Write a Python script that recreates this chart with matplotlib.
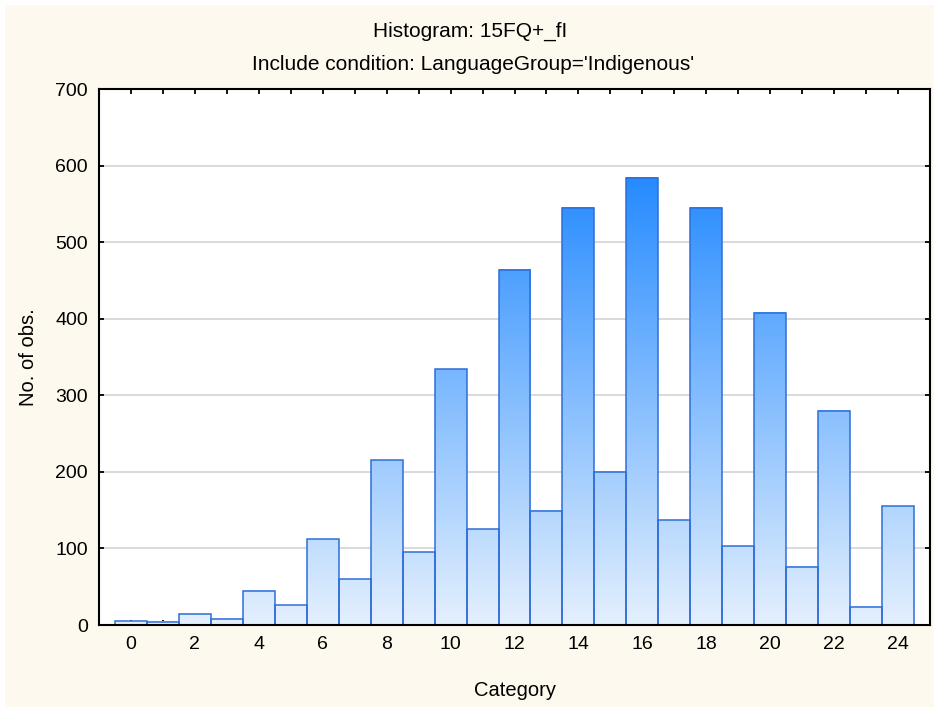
import matplotlib
matplotlib.use("Agg")
import matplotlib.pyplot as plt
import numpy as np
from matplotlib.colors import LinearSegmentedColormap
from matplotlib.patches import Rectangle

plt.rcParams['font.family'] = ['Liberation Sans', 'DejaVu Sans']

# histogram counts
categories = list(range(25))
counts = [5, 4, 15, 8, 45, 26, 112, 60, 215, 95, 334, 125, 464, 149,
          545, 200, 584, 137, 545, 103, 408, 76, 280, 24, 155]
tick_labels = [str(c) if c % 2 == 0 else '' for c in categories]

title = 'Histogram: 15FQ+_fI'
subtitle = "Include condition: LanguageGroup='Indigenous'"

W, H = 934, 707
fig = plt.figure(figsize=(W / 100, H / 100), dpi=100, facecolor='white')
# cream page background with a thin white strip on left/top
fig.patches.append(Rectangle((5 / W, 0), 1, 1 - 5 / H, transform=fig.transFigure,
                             facecolor='#FEF9EE', edgecolor='none', zorder=-10))

ax = fig.add_axes([99 / W, 1 - 625 / H, (930 - 99) / W, (625 - 89) / H])
ax.set_facecolor('white')

# gradient from pale at zero to saturated blue at the tallest bar
cmap = LinearSegmentedColormap.from_list('bluegrad', ['#E4F0FD', '#268BFF'])
vmax = max(counts)
for x, h in zip(categories, counts):
    grad = np.linspace(0, h, 200).reshape(-1, 1)
    ax.imshow(grad, cmap=cmap, vmin=0, vmax=vmax, origin='lower', aspect='auto',
              extent=(x - 0.5, x + 0.5, 0, h), zorder=2, interpolation='bilinear')
ax.bar(categories, counts, width=1.0, fill=False, edgecolor='#2F6ED8',
       linewidth=1.1, zorder=3)

ax.set_xlim(-1, 25)
ax.set_ylim(0, 700)
ax.set_xticks(categories)
ax.set_xticklabels(tick_labels)
ax.set_yticks(range(0, 701, 100))

ax.yaxis.grid(True, color='#D9D9D9', linewidth=1.4, zorder=0)
ax.set_axisbelow(True)

for s in ax.spines.values():
    s.set_linewidth(1.5)
    s.set_color('black')
    s.set_zorder(5)

ax.tick_params(axis='both', direction='in', length=3.5, width=1.3,
               top=True, right=True, labelsize=14, pad=8, colors='black')

fig.text(470 / W, 1 - 31 / H, title, ha='center', va='center', fontsize=15)
fig.text(473 / W, 1 - 64 / H, subtitle, ha='center', va='center', fontsize=15)
fig.text(515 / W, 1 - 690 / H, 'Category', ha='center', va='center', fontsize=14.5)
fig.text(28 / W, 1 - 357 / H, 'No. of obs.', ha='center', va='center',
         rotation=90, fontsize=14.5)

fig.savefig('out.png', dpi=100, facecolor=fig.get_facecolor())
